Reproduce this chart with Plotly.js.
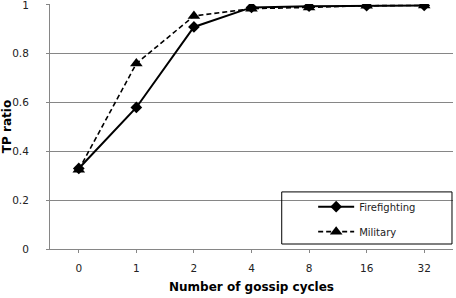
<!DOCTYPE html>
<html><head><meta charset="utf-8">
<script src="https://cdn.plot.ly/plotly-3.0.1.min.js"></script>
<style>html,body{margin:0;padding:0;background:#fff}#c{width:456px;height:298px}</style>
</head><body><div id="c"></div>
<script>
var categories = ["0","1","2","4","8","16","32"];
var firefighting = [0.33, 0.58, 0.91, 0.99, 0.995, 0.997, 0.998];
var military = [0.325, 0.76, 0.955, 0.985, 0.99, 0.997, 0.998];
var yTicks = [0, 0.2, 0.4, 0.6, 0.8, 1];
var yTickText = ["0", "0.2", "0.4", "0.6", "0.8", "1"];

var tickFont = {family: "DejaVu Sans", size: 10.5, color: "#222"};
var data = [
  {x: categories, y: firefighting, name: "Firefighting", type: "scatter", mode: "lines+markers",
   legendgroup: "a", line: {color: "#000", width: 2},
   marker: {symbol: "diamond", size: 9, color: "#000"}},
  {x: categories, y: military, name: "Military", type: "scatter", mode: "lines+markers",
   legendgroup: "b", line: {color: "#000", width: 1.6, dash: "5px,3px"},
   marker: {symbol: "triangle-up", size: 11, color: "#000"}}
];
var layout = {
  width: 456, height: 298,
  margin: {l: 50, r: 3, t: 4, b: 49},
  paper_bgcolor: "#fff", plot_bgcolor: "#fff",
  showlegend: true,
  legend: {x: 0.653, y: 0.232, xanchor: "left", yanchor: "top", bgcolor: "rgba(0,0,0,0)",
           borderwidth: 0, font: {family: "DejaVu Sans", size: 10, color: "#222"},
           traceorder: "grouped", tracegroupgap: 6, itemwidth: 36},
  xaxis: {type: "category", range: [-0.5, 6.5], showgrid: false, showline: true,
          linecolor: "#868686", linewidth: 1, ticks: "outside", ticklen: 3, tickcolor: "#868686",
          tickfont: tickFont, ticklabelstandoff: 6, zeroline: false, fixedrange: true,
          title: {text: "Number of gossip cycles", font: {family: "DejaVu Sans", size: 12, color: "#000", weight: "bold"}, standoff: 10}},
  yaxis: {range: [0, 1.004], tickvals: yTicks, ticktext: yTickText, showgrid: true, gridcolor: "#868686",
          gridwidth: 1, showline: true, linecolor: "#868686", ticks: "outside", ticklen: 3,
          tickcolor: "#868686", tickfont: tickFont, ticklabelstandoff: 15, ticklabeloverflow: "allow",
          zeroline: false,
          title: {text: "TP ratio", font: {family: "DejaVu Sans", size: 12, color: "#000", weight: "bold"}, standoff: 4}},
  shapes: [{type: "rect", xref: "paper", yref: "paper", x0: 0.575, x1: 0.9975, y0: 0.0204, y1: 0.233,
            line: {color: "#000", width: 1}, fillcolor: "rgba(0,0,0,0)", layer: "above"}]
};
Plotly.newPlot("c", data, layout, {displayModeBar: false, staticPlot: true});
</script></body></html>
